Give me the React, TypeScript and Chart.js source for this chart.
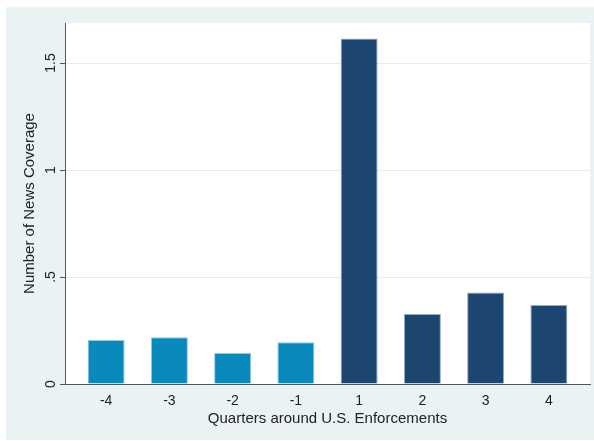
import React, { useEffect, useRef } from "react";
import { Chart, registerables } from "chart.js";

Chart.register(...registerables);

const categories = ["-4", "-3", "-2", "-1", "1", "2", "3", "4"];
const coverage = [0.206, 0.218, 0.145, 0.195, 1.615, 0.327, 0.428, 0.369];
const afterEnforcement = [false, false, false, false, true, true, true, true];
const yTickValues = [0, 0.5, 1, 1.5];
const yTickLabels = ["0", ".5", "1", "1.5"];

const LIGHT = "#0a89bd";
const DARK = "#1c4670";
const BG = "#eaf2f3";
const FONT = "'Liberation Sans', Arial, sans-serif";

const backgroundPlugin = {
  id: "stataBackground",
  beforeDraw(chart: any) {
    const { ctx, chartArea, width, height } = chart;
    ctx.save();
    ctx.fillStyle = "#ffffff";
    ctx.fillRect(0, 0, width, height);
    ctx.fillStyle = BG;
    ctx.fillRect(6, 7, width - 6, height - 8);
    ctx.fillStyle = "#ffffff";
    ctx.fillRect(chartArea.left, chartArea.top, chartArea.right - chartArea.left, chartArea.bottom - chartArea.top);
    ctx.restore();
  },
};

export default function App() {
  const ref = useRef<HTMLCanvasElement | null>(null);
  useEffect(() => {
    document.body.style.margin = "0";
    const canvas = ref.current;
    if (!canvas) return;
    const positions = categories.map((_, i) => i);
    const chart = new Chart(canvas, {
      type: "bar",
      data: {
        datasets: [
          {
            data: positions.map((x, i) => ({ x, y: coverage[i] })),
            backgroundColor: afterEnforcement.map((a) => (a ? DARK : LIGHT)),
            borderColor: afterEnforcement.map((a) => (a ? "rgba(120,150,185,0.8)" : "rgba(110,190,225,0.8)")),
            borderWidth: 1,
            categoryPercentage: 1,
            barPercentage: 0.585,
          },
        ],
      },
      options: {
        responsive: false,
        animation: false,
        layout: { padding: { top: 23, right: 4, left: 0, bottom: 0 } },
        plugins: { legend: { display: false }, tooltip: { enabled: false } },
        scales: {
          x: {
            type: "linear",
            offset: false,
            min: -0.65,
            max: categories.length - 1 + 0.65,
            afterBuildTicks: (scale: any) => {
              scale.ticks = positions.map((v) => ({ value: v }));
            },
            afterFit: (scale: any) => {
              scale.height = 57;
            },
            grid: { display: false, drawTicks: false, offset: false },
            border: { display: true, color: "#555555", width: 1 },
            ticks: {
              padding: 9,
              color: "#222222",
              font: { family: FONT, size: 14 },
              callback: (v: any) => categories[Math.round(Number(v))] ?? "",
            },
            title: {
              display: true,
              text: "Quarters around U.S. Enforcements",
              color: "#222222",
              font: { family: FONT, size: 15 },
              padding: { top: 0, bottom: 13 },
            },
          },
          y: {
            type: "linear",
            min: 0,
            max: 1.687,
            afterBuildTicks: (scale: any) => {
              scale.ticks = yTickValues.map((v) => ({ value: v }));
            },
            afterFit: (scale: any) => {
              scale.width = 65;
            },
            grid: {
              color: (ctx: any) => (ctx.tick && ctx.tick.value === 0 ? "rgba(0,0,0,0)" : "#e3edf0"),
              tickColor: "#555555",
              tickLength: 5,
              drawTicks: true,
            },
            border: { display: true, color: "#555555", width: 1 },
            ticks: {
              minRotation: 90,
              maxRotation: 90,
              crossAlign: "center",
              padding: -1,
              color: "#222222",
              font: { family: FONT, size: 14 },
              callback: (v: any) => {
                const idx = yTickValues.indexOf(Number(v));
                return idx >= 0 ? yTickLabels[idx] : "";
              },
            },
            title: {
              display: true,
              text: "Number of News Coverage",
              color: "#222222",
              font: { family: FONT, size: 15 },
              padding: { top: 21, bottom: 0 },
            },
          },
        },
      },
      plugins: [backgroundPlugin],
    } as any);
    return () => chart.destroy();
  }, []);
  return <canvas ref={ref} width={594} height={441} style={{ display: "block" }} />;
}
